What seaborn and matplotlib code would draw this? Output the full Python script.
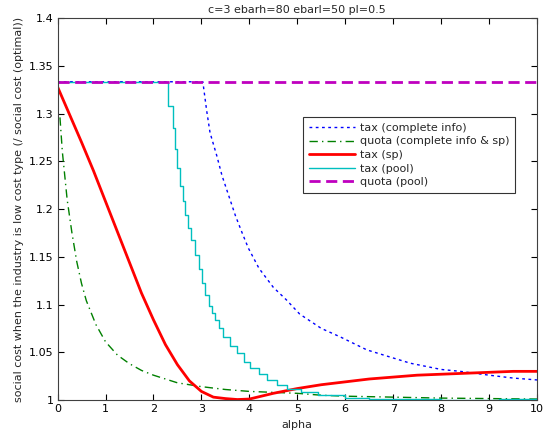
import matplotlib
matplotlib.use("Agg")
import matplotlib.pyplot as plt
import seaborn as sns
import pandas as pd

sns.set_theme(style="white")
plt.rcParams['font.family'] = ['DejaVu Sans']

title = "c=3 ebarh=80 ebarl=50 pl=0.5"
xlabel = "alpha"
ylabel = "social cost when the industry is low cost type (/ social cost (optimal))"

# tax (complete info)
tax_ci_x = [0, 3.03, 3.11, 3.18, 3.25, 3.32, 3.43, 3.57, 3.71, 3.85, 3.98, 4.2, 4.5, 4.77, 5.05,
            5.5, 5.9, 6.45, 7.0, 7.36, 8.0, 8.4, 9.0, 9.5, 10.0]
tax_ci_y = [1.3333, 1.3333, 1.303, 1.280, 1.268, 1.256, 1.235, 1.214, 1.193, 1.175, 1.159, 1.138,
            1.118, 1.105, 1.090, 1.075, 1.066, 1.0525, 1.044, 1.0385, 1.032, 1.030, 1.026, 1.023, 1.021]

# quota (complete info & sp)
quota_ci_x = [0.05, 0.1, 0.2, 0.3, 0.4, 0.5, 0.6, 0.8, 1.0, 1.25, 1.5, 1.75, 2.0, 2.5, 3.0, 3.5,
              4.0, 4.5, 5.0, 5.5, 6.0, 7.0, 8.0, 9.0, 10.0]
quota_ci_y = [1.296, 1.26, 1.21, 1.175, 1.145, 1.122, 1.104, 1.079, 1.061, 1.047, 1.038, 1.031,
              1.026, 1.018, 1.014, 1.011, 1.009, 1.008, 1.007, 1.005, 1.004, 1.003, 1.002, 1.0015, 1.001]

# tax (sp)
tax_sp_x = [0, 0.25, 0.5, 0.75, 1.0, 1.25, 1.5, 1.75, 2.0, 2.25, 2.5, 2.75, 3.0, 3.25, 3.5, 3.75,
            4.0, 4.5, 5.0, 5.5, 6.0, 6.5, 7.0, 7.5, 8.0, 8.5, 9.0, 9.5, 10.0]
tax_sp_y = [1.328, 1.299, 1.270, 1.240, 1.208, 1.176, 1.144, 1.112, 1.084, 1.058, 1.037, 1.020,
            1.009, 1.003, 1.0015, 1.0005, 1.001, 1.007, 1.012, 1.016, 1.019, 1.022, 1.024, 1.026,
            1.027, 1.028, 1.029, 1.030, 1.030]

# tax (pool) - staircase
tax_pool_x = [0, 2.31, 2.40, 2.45, 2.49, 2.56, 2.61, 2.66, 2.73, 2.78, 2.86, 2.94, 3.01, 3.08,
              3.15, 3.22, 3.29, 3.37, 3.46, 3.6, 3.75, 3.88, 4.02, 4.2, 4.37, 4.57, 4.78, 5.08,
              5.43, 6.0, 6.5, 7.0, 8.0, 9.2, 10.0]
tax_pool_y = [1.3333, 1.308, 1.285, 1.263, 1.243, 1.224, 1.208, 1.194, 1.180, 1.168, 1.152, 1.137,
              1.1226, 1.110, 1.098, 1.091, 1.084, 1.075, 1.0665, 1.057, 1.049, 1.040, 1.033, 1.027,
              1.021, 1.016, 1.012, 1.0087, 1.005, 1.0025, 1.0012, 1.0008, 1.0005, 1.0015, 1.0015]

# quota (pool)
quota_pool_x = [0, 10]
quota_pool_y = [1.3333, 1.3333]

fig = plt.figure(figsize=(5.43, 4.4), dpi=100)
ax = fig.add_axes([0.106, 0.0909, 0.883, 0.868])

sns.lineplot(x=tax_ci_x, y=tax_ci_y, ax=ax, color="#0000ff", lw=1.0,
             linestyle=(0, (2, 2.5)), label="tax (complete info)", estimator=None, sort=False)
sns.lineplot(x=quota_ci_x, y=quota_ci_y, ax=ax, color="#008000", lw=1.0,
             linestyle=(0, (6, 3, 1, 3)), label="quota (complete info & sp)", estimator=None, sort=False)
sns.lineplot(x=tax_sp_x, y=tax_sp_y, ax=ax, color="#ff0000", lw=2.0,
             label="tax (sp)", estimator=None, sort=False)
sns.lineplot(x=tax_pool_x, y=tax_pool_y, ax=ax, color="#00bfbf", lw=1.0,
             drawstyle="steps-post", label="tax (pool)", estimator=None, sort=False)
sns.lineplot(x=quota_pool_x, y=quota_pool_y, ax=ax, color="#bf00bf", lw=2.0,
             linestyle=(0, (4, 2)), label="quota (pool)", estimator=None, sort=False)

ax.set_xlim(0, 10)
ax.set_ylim(1, 1.4)
ax.set_xticks(range(0, 11))
ax.set_yticks([1, 1.05, 1.1, 1.15, 1.2, 1.25, 1.3, 1.35, 1.4])
ax.set_yticklabels(["1", "1.05", "1.1", "1.15", "1.2", "1.25", "1.3", "1.35", "1.4"])
ax.tick_params(direction="in", length=4, width=0.8, labelsize=8, top=True, right=True,
               bottom=True, left=True, colors="black", pad=3)
for s in ax.spines.values():
    s.set_color("#404040")
    s.set_linewidth(0.8)
ax.set_title(title, fontsize=8, pad=4)
ax.set_xlabel(xlabel, fontsize=8, labelpad=4)
ax.set_ylabel(ylabel, fontsize=8, labelpad=3)

leg = ax.legend(loc="upper left", bbox_to_anchor=(0.512, 0.74), fontsize=8,
                frameon=True, fancybox=False, borderpad=0.5, labelspacing=0.32,
                handlelength=4.2, handletextpad=0.4, borderaxespad=0)
leg.get_frame().set_edgecolor("black")
leg.get_frame().set_linewidth(0.8)

fig.savefig("out.png", dpi=100)
